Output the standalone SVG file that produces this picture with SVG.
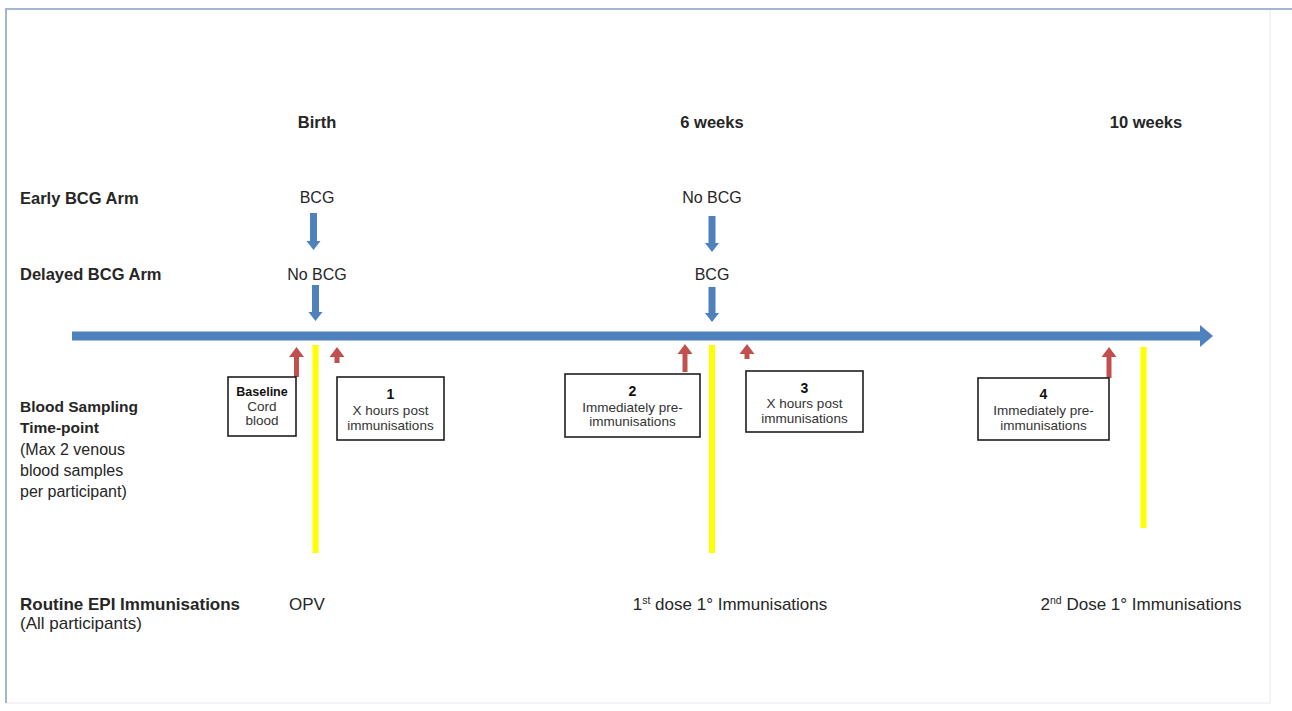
<svg xmlns="http://www.w3.org/2000/svg" width="1292" height="711" viewBox="0 0 1292 711">
<style>
  text { font-family: "Liberation Sans", Arial, sans-serif; fill: #262626; }
  .hd { font-weight: bold; font-size: 16.5px; text-anchor: middle; }
  .lb { font-weight: bold; font-size: 16.5px; }
  .lb2 { font-weight: bold; font-size: 15.5px; }
  .lr { font-size: 16px; }
  .bot { font-size: 17px; }
  .botb { font-weight: bold; font-size: 17px; }
  .arm { font-size: 16px; text-anchor: middle; }
  .bx { fill: #ffffff; stroke: #1e1e1e; stroke-width: 1.6; }
  .bt { font-size: 13.5px; text-anchor: middle; fill: #333; }
  .bn { font-weight: bold; font-size: 14px; text-anchor: middle; fill: #111; }
  .blue { fill: #4f81bd; }
  .red { fill: #c0504d; }
  .yel { stroke: #ffff00; stroke-width: 6; fill: none; }
</style>
<rect x="0" y="0" width="1292" height="711" fill="#ffffff"/>
<path d="M1270 9 V703 H6" fill="none" stroke="#eef1f5" stroke-width="1.5"/>
<path d="M6 703 V9 H1292" fill="none" stroke="#a3b8d0" stroke-width="2"/>

<g id="headers">
  <text class="hd" x="317" y="128">Birth</text>
  <text class="hd" x="712" y="128">6 weeks</text>
  <text class="hd" x="1146" y="128">10 weeks</text>
</g>

<g id="row-labels">
  <text class="lb" x="20" y="204">Early BCG Arm</text>
  <text class="lb" x="20" y="280">Delayed BCG Arm</text>
  <text class="lb2" x="20" y="412">Blood Sampling</text>
  <text class="lb2" x="20" y="433">Time-point</text>
  <text class="lr" x="20" y="455">(Max 2 venous</text>
  <text class="lr" x="20" y="476">blood samples</text>
  <text class="lr" x="20" y="497">per participant)</text>
  <text class="botb" x="20" y="610">Routine EPI Immunisations</text>
  <text class="bot" x="20" y="629">(All participants)</text>
</g>

<g id="arm-labels">
  <text class="arm" x="317" y="203">BCG</text>
  <text class="arm" x="317" y="280">No BCG</text>
  <text class="arm" x="712" y="203">No BCG</text>
  <text class="arm" x="712" y="280">BCG</text>
</g>

<g id="connectors">
  <!-- timeline -->
  <path class="blue" d="M72 331.5 H1200 V325 L1213 336 L1200 347 V340.5 H72 Z"/>
  <!-- blue down arrows -->
  <path class="blue" d="M310 213 H317 V241 H320.5 L313.5 250 L306.5 241 H310 Z"/>
  <path class="blue" d="M312 285 H319 V312 H322.5 L315.5 321 L308.5 312 H312 Z"/>
  <path class="blue" d="M708.5 216 H715.5 V243 H719 L712 252 L705 243 H708.5 Z"/>
  <path class="blue" d="M708.5 287 H715.5 V313 H719 L712 322 L705 313 H708.5 Z"/>
  <!-- yellow immunisation lines -->
  <line class="yel" x1="315.5" y1="345" x2="315.5" y2="553"/>
  <line class="yel" x1="712" y1="345" x2="712" y2="553"/>
  <line class="yel" x1="1143.5" y1="347" x2="1143.5" y2="528"/>
  <!-- red sampling arrows -->
  <path class="red" d="M294 377 V357 H289 L296.5 347 L304 357 H299 V377 Z"/>
  <path class="red" d="M334.5 363 V357 H329.5 L337 347 L344.5 357 H339.5 V363 Z"/>
  <path class="red" d="M682.5 372 V354 H677.5 L685 344 L692.5 354 H687.5 V372 Z"/>
  <path class="red" d="M744.5 359 V354 H739.5 L747 344 L754.5 354 H749.5 V359 Z"/>
  <path class="red" d="M1106.5 378 V357 H1101.5 L1109 347 L1116.5 357 H1111.5 V378 Z"/>
</g>

<g id="box-baseline">
  <rect class="bx" x="228" y="377" width="68" height="59"/>
  <text class="bn" x="262" y="396" style="font-size:12.5px">Baseline</text>
  <text class="bt" x="262" y="411">Cord</text>
  <text class="bt" x="262" y="425">blood</text>
</g>

<g id="box-1">
  <rect class="bx" x="337" y="377" width="107" height="63"/>
  <text class="bn" x="390.5" y="399">1</text>
  <text class="bt" x="390.5" y="415">X hours post</text>
  <text class="bt" x="390.5" y="429.5">immunisations</text>
</g>

<g id="box-2">
  <rect class="bx" x="565" y="374" width="135" height="63"/>
  <text class="bn" x="632.5" y="395.5">2</text>
  <text class="bt" x="632.5" y="411.5">Immediately pre-</text>
  <text class="bt" x="632.5" y="426">immunisations</text>
</g>

<g id="box-3">
  <rect class="bx" x="746" y="371" width="117" height="61"/>
  <text class="bn" x="804.5" y="392.5">3</text>
  <text class="bt" x="804.5" y="408">X hours post</text>
  <text class="bt" x="804.5" y="422.5">immunisations</text>
</g>

<g id="box-4">
  <rect class="bx" x="978" y="378" width="131" height="62"/>
  <text class="bn" x="1043.5" y="399">4</text>
  <text class="bt" x="1043.5" y="415">Immediately pre-</text>
  <text class="bt" x="1043.5" y="429.5">immunisations</text>
</g>

<g id="immunisations">
  <text class="bot" x="307" y="610" text-anchor="middle">OPV</text>
  <text class="bot" x="730" y="610" text-anchor="middle">1<tspan dy="-6" font-size="10.5">st</tspan><tspan dy="6"> dose 1° Immunisations</tspan></text>
  <text class="bot" x="1141" y="610" text-anchor="middle">2<tspan dy="-6" font-size="10.5">nd</tspan><tspan dy="6"> Dose 1° Immunisations</tspan></text>
</g>
</svg>
